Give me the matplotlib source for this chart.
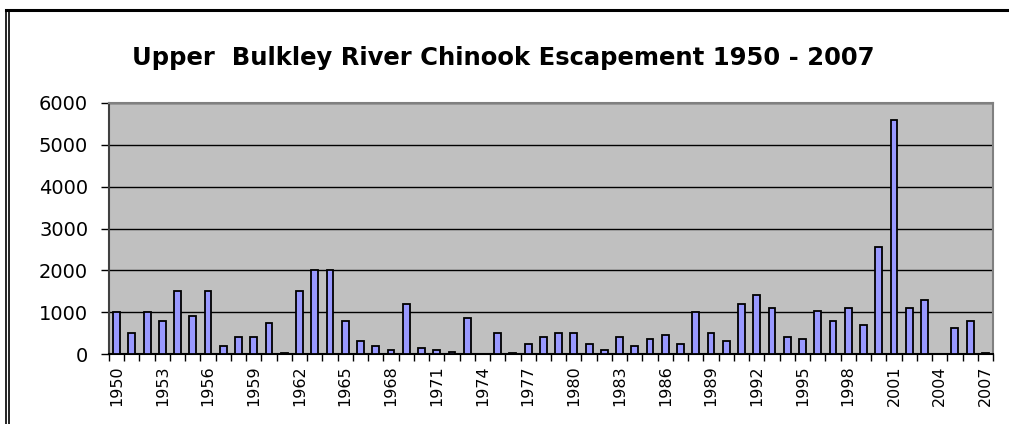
import numpy as np
import matplotlib
matplotlib.use('agg')
import matplotlib.pyplot as plt
from matplotlib.lines import Line2D

years = list(range(1950, 2008))
escapement = [1000, 500, 1000, 800, 1500, 900, 1500, 200, 400, 400,
              750, 20, 1500, 2000, 2000, 800, 300, 200, 100, 1200,
              150, 90, 50, 850, 0, 500, 25, 230, 400, 500,
              500, 230, 90, 400, 200, 350, 450, 230, 1000, 500,
              300, 1200, 1400, 1100, 400, 350, 1030, 780, 1100, 700,
              2550, 5600, 1100, 1280, 0, 620, 780, 20]
yticks = [0, 1000, 2000, 3000, 4000, 5000, 6000]

plt.rcParams['font.family'] = ['DejaVu Sans']

fig = plt.figure(figsize=(10.09, 4.24), dpi=100)
ax = fig.add_axes([109 / 1009, 1 - 354 / 424, 884 / 1009, 251 / 424])

x = np.arange(len(years))
ax.bar(x, escapement, width=0.45, color='#9999FF', edgecolor='black', linewidth=1.3, zorder=3)

ax.set_facecolor('#C0C0C0')
ax.set_xlim(-0.5, len(years) - 0.5)
ax.set_ylim(0, 6000)
ax.set_yticks(yticks)
ax.set_yticklabels([str(v) for v in yticks], fontsize=14)
ax.yaxis.grid(True, color='black', linewidth=1)
ax.set_axisbelow(True)

# category boundary ticks, labels every 3 years
ax.set_xticks(np.arange(-0.5, len(years), 1.0))
ax.set_xticklabels([])
ax.set_xticks(x[::3], minor=True)
ax.set_xticklabels([str(y) for y in years[::3]], minor=True, rotation=90, fontsize=11.5)
ax.tick_params(axis='x', which='major', direction='out', length=5, width=1)
ax.tick_params(axis='x', which='minor', length=0, pad=8)
ax.tick_params(axis='y', direction='out', length=6, width=1, pad=9)

for s in ['top', 'right']:
    ax.spines[s].set_color('#808080')
    ax.spines[s].set_linewidth(1.5)
ax.spines['left'].set_color('#404040')
ax.spines['left'].set_linewidth(1.5)
ax.spines['bottom'].set_color('black')
ax.spines['bottom'].set_linewidth(1.5)

fig.text(503 / 1009, 1 - 65 / 424, 'Upper  Bulkley River Chinook Escapement 1950 - 2007',
         ha='center', va='baseline', fontsize=17.5, fontweight='bold')

# outer frame: top line and double left line
fig.add_artist(Line2D([6 / 1009, 1], [1 - 10 / 424, 1 - 10 / 424], color='black', lw=2.2))
fig.add_artist(Line2D([6 / 1009, 6 / 1009], [0, 1 - 10 / 424], color='black', lw=1.2))
fig.add_artist(Line2D([9 / 1009, 9 / 1009], [0, 1 - 10 / 424], color='black', lw=1.2))

fig.savefig('out.png', dpi=100)
